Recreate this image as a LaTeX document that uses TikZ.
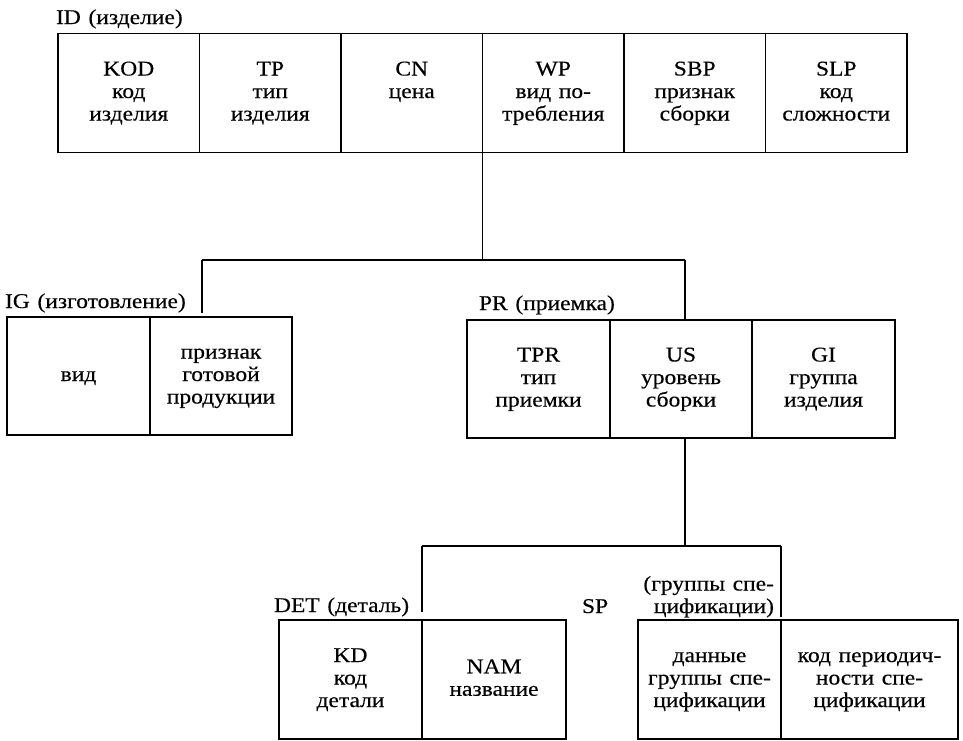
\documentclass[tikz,border=0pt]{standalone}
\usepackage{fontspec}
\setmainfont{Liberation Serif}[FakeStretch=1.12,FakeBold=0.3,WordSpace=1.3]
\newcommand\zs{\rule[-5pt]{0pt}{20pt}}
\begin{document}
\begin{tikzpicture}[x=1pt,y=-1pt, line width=1.8pt,
  every node/.style={font=\fontsize{21}{22.5}\selectfont, inner sep=0pt, outer sep=0pt},
  cell/.style={draw, align=center, minimum height=119pt},
  lbl/.style={anchor=base west}]
\fill[white] (0,0) rectangle (963,740);
\useasboundingbox (0,0) rectangle (963,740);
% ID table
\begin{scope}[every node/.append style={minimum width=141.5pt, minimum height=120pt}]
\node[cell] (kod) at (128.75,93) {\zs KOD\\\zs код\\\zs изделия};
\node[cell] (tp)  at (270.25,93) {\zs TP\\\zs тип\\\zs изделия};
\node[cell] (cn)  at (411.75,93) {\zs CN\\\zs цена\\\zs};
\node[cell] (wp)  at (553.25,93) {\zs WP\\\zs вид по-\\\zs требления};
\node[cell] (sbp) at (694.75,93) {\zs SBP\\\zs признак\\\zs сборки};
\node[cell] (slp) at (836.25,93) {\zs SLP\\\zs код\\\zs сложности};
\end{scope}
\node[lbl] (idl) at (56,24) {ID (изделие)};
% IG table
\node[cell, minimum width=143pt, minimum height=118pt] (ig1) at (78.5,376) {\zs вид};
\node[cell, minimum width=142pt, minimum height=118pt] (ig2) at (221,376) {\zs признак\\\zs готовой\\\zs продукции};
\node[lbl] (igl) at (5,308) {IG (изготовление)};
% PR table
\node[cell, minimum width=143pt, minimum height=118pt] (tpr) at (538.5,379) {\zs TPR\\\zs тип\\\zs приемки};
\node[cell, minimum width=142pt, minimum height=118pt] (us)  at (681,379) {\zs US\\\zs уровень\\\zs сборки};
\node[cell, minimum width=143pt, minimum height=118pt] (gi)  at (823.5,379) {\zs GI\\\zs группа\\\zs изделия};
\node[lbl] (prl) at (479,310) {PR (приемка)};
% DET table
\node[cell, minimum width=143pt] (kd)  at (350.5,679.5) {\zs KD\\\zs код\\\zs детали};
\node[cell, minimum width=144pt] (nam) at (494,679.5) {\zs NAM\\\zs название};
\node[lbl] (detl) at (274,612) {DET (деталь)};
% SP table
\node[cell, minimum width=143pt] (sp1) at (709.5,679.5) {\zs данные\\\zs группы спе-\\\zs цификации};
\node[cell, minimum width=177pt] (sp2) at (869.5,679.5) {\zs код периодич-\\\zs ности спе-\\\zs цификации};
\node[lbl] (spl) at (582,613) {SP};
\node[anchor=south east, align=right] (spn) at (774,618) {\zs(группы спе-\\\zs цификации)};
% connectors
\coordinate (j1) at (482.5,260);
\coordinate (h1l) at (202,260);
\coordinate (h1r) at (685,260);
\coordinate (e1l) at (202,313);
\coordinate (e1r) at (685,320);
\draw (cn.south east) -- (j1);
\draw (h1l) -- (h1r);
\draw (h1l) -- (e1l);
\draw (h1r) -- (e1r);
\coordinate (s2) at (685,438);
\coordinate (j2) at (685,546);
\coordinate (h2l) at (422,546);
\coordinate (h2r) at (781,546);
\coordinate (e2l) at (422,612);
\coordinate (e2r) at (781,617);
\draw (s2) -- (j2);
\draw (h2l) -- (h2r);
\draw (h2l) -- (e2l);
\draw (h2r) -- (e2r);
\end{tikzpicture}
\end{document}
